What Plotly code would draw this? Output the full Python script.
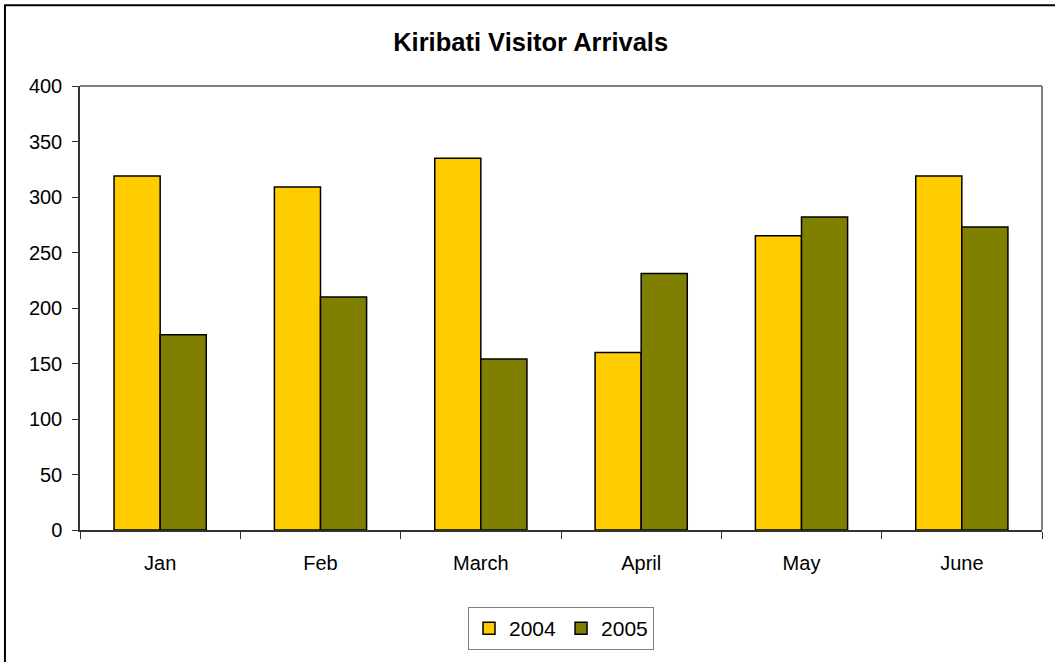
import plotly.graph_objects as go

months = ["Jan", "Feb", "March", "April", "May", "June"]
arrivals_2004 = [319, 309, 335, 160, 265, 319]
arrivals_2005 = [176, 210, 154, 231, 282, 273]

FONT = "Liberation Sans, Arial, sans-serif"

fig = go.Figure()
fig.add_trace(go.Bar(
    x=months, y=arrivals_2004, name="2004",
    marker=dict(color="#FFCC00", line=dict(color="black", width=1.5)),
))
fig.add_trace(go.Bar(
    x=months, y=arrivals_2005, name="2005",
    marker=dict(color="#808000", line=dict(color="black", width=1.5)),
))

# outer chart border (only left and top visible in the reference)
fig.add_shape(type="rect", xref="paper", yref="paper",
              x0=-0.078, x1=1.2, y0=-0.5, y1=1.182,
              line=dict(color="black", width=2), layer="below")

fig.update_layout(
    width=1055,
    height=662,
    margin=dict(l=80, r=13, t=86, b=130),
    paper_bgcolor="white",
    plot_bgcolor="white",
    font=dict(family=FONT, size=20, color="black"),
    title=dict(
        text="<b>Kiribati Visitor Arrivals</b>",
        font=dict(family=FONT, size=25.5, color="black"),
        x=0.503, xanchor="center", y=0.937, yanchor="middle",
    ),
    barmode="group",
    bargap=0.425,
    bargroupgap=0,
    showlegend=True,
    legend=dict(
        orientation="h",
        x=0.5, xanchor="center",
        y=-0.222, yanchor="middle",
        bordercolor="#808080", borderwidth=1,
        font=dict(family=FONT, size=21),
        itemwidth=30,
    ),
    xaxis=dict(
        showline=True, linecolor="#333333", linewidth=1.5,
        ticks="outside", tickson="boundaries", ticklen=7,
        tickcolor="#333333", mirror=False,
        showgrid=False,
        ticklabelstandoff=14,
    ),
    yaxis=dict(
        range=[0, 400], dtick=50,
        showline=True, linecolor="#333333", linewidth=1.5,
        ticks="outside", ticklen=6, tickcolor="#333333",
        showgrid=False, zeroline=False,
        ticklabelstandoff=6,
    ),
)

# gray plot-area border on top and right
fig.add_shape(type="line", xref="paper", yref="paper",
              x0=0, x1=1, y0=1, y1=1, line=dict(color="#808080", width=2))
fig.add_shape(type="line", xref="paper", yref="paper",
              x0=1, x1=1, y0=0, y1=1, line=dict(color="#808080", width=2))

fig.write_html("out.html", config={"displayModeBar": False},
               post_script="document.body.style.margin='0';")
